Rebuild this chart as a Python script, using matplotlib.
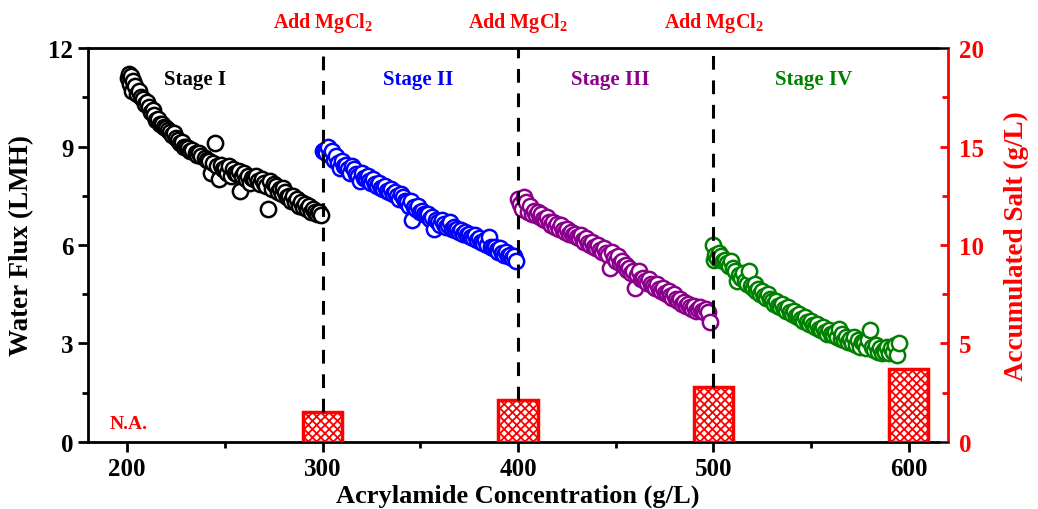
import matplotlib.pyplot as plt
import matplotlib.transforms as mtransforms
from matplotlib.ticker import MultipleLocator

# Stage I (black)
stage1_x = [200.5, 201, 201.5, 202, 202.5, 203, 204, 205, 206, 207, 208, 209, 210, 211, 212, 213, 214, 215,
            216, 217, 218, 219, 220, 221, 222, 223, 224, 225, 226, 227, 228, 229, 230, 231, 232, 233, 235,
            236, 237, 238, 240, 241, 242, 243, 244, 245, 246, 247, 248, 249, 250, 251, 252, 253, 254, 255,
            256, 257, 258, 259, 260, 261, 262, 263, 264, 265, 266, 267, 268, 269, 270, 271, 272, 273, 274,
            275, 276, 277, 278, 279, 280, 281, 282, 283, 284, 285, 286, 287, 288, 289, 290, 291, 292, 293,
            294, 295, 296, 297, 298, 299]
stage1_y = [11.1, 11.2, 10.9, 11.15, 10.7, 11.0, 10.85, 10.6, 10.7, 10.5, 10.45, 10.3, 10.35, 10.2, 10.05,
            10.1, 9.95, 9.8, 9.85, 9.7, 9.7, 9.6, 9.55, 9.5, 9.45, 9.35, 9.4, 9.25, 9.2, 9.1, 9.15, 9.0, 9.0,
            8.95, 8.85, 8.9, 8.8, 8.75, 8.8, 8.7, 8.65, 8.6, 8.55, 8.2, 8.5, 9.1, 8.4, 8.0, 8.45, 8.3, 8.35,
            8.2, 8.4, 8.1, 8.3, 8.2, 8.15, 8.25, 7.65, 8.1, 8.2, 8.0, 8.1, 7.9, 8.05, 8.0, 8.1, 7.95, 7.85,
            8.0, 7.9, 7.8, 7.1, 7.95, 7.7, 7.85, 7.8, 7.6, 7.7, 7.55, 7.75, 7.6, 7.45, 7.5, 7.35, 7.5, 7.3,
            7.4, 7.2, 7.3, 7.15, 7.25, 7.1, 7.2, 7.0, 7.1, 7.0, 6.95, 7.0, 6.9]

# Stage II (blue)
stage2_x = [300, 301, 302, 303, 304, 305, 306, 307, 308, 309, 310, 311, 312, 313, 314, 315, 316, 317, 318,
            319, 320, 321, 322, 323, 324, 325, 326, 327, 328, 329, 330, 331, 332, 333, 334, 335, 336, 337,
            338, 339, 340, 341, 342, 343, 344, 345, 346, 347, 348, 349, 350, 351, 352, 353, 354, 355, 356,
            357, 358, 359, 360, 361, 362, 363, 364, 365, 366, 367, 368, 369, 370, 371, 372, 373, 374, 375,
            376, 377, 378, 379, 380, 381, 382, 383, 384, 385, 386, 387, 388, 389, 390, 391, 392, 393, 394,
            395, 396, 397, 398, 399]
stage2_y = [8.85, 8.9, 8.8, 9.0, 8.75, 8.85, 8.6, 8.7, 8.5, 8.35, 8.55, 8.4, 8.45, 8.3, 8.2, 8.4, 8.3, 8.15,
            8.1, 7.95, 8.2, 8.05, 8.0, 8.1, 7.95, 7.9, 8.0, 7.85, 7.8, 7.9, 7.75, 7.7, 7.8, 7.65, 7.6, 7.7,
            7.55, 7.6, 7.5, 7.4, 7.55, 7.45, 7.35, 7.3, 7.2, 7.35, 6.75, 7.15, 7.1, 7.2, 7.0, 7.05, 6.95, 6.9,
            6.95, 6.8, 6.85, 6.5, 6.75, 6.7, 6.6, 6.75, 6.65, 6.55, 6.6, 6.7, 6.5, 6.55, 6.45, 6.5, 6.4, 6.45,
            6.35, 6.4, 6.3, 6.35, 6.25, 6.2, 6.3, 6.15, 6.2, 6.1, 6.05, 6.15, 6.0, 6.25, 5.95, 5.9, 5.95, 5.85,
            5.8, 5.9, 5.75, 5.7, 5.8, 5.65, 5.7, 5.6, 5.65, 5.5]

# Stage III (purple)
stage3_x = [400, 401, 402, 403, 404, 405, 406, 407, 408, 409, 410, 411, 412, 413, 414, 415, 416, 417, 418,
            419, 420, 421, 422, 423, 424, 425, 426, 427, 428, 429, 430, 431, 432, 433, 434, 435, 436, 437,
            438, 439, 440, 441, 442, 443, 444, 445, 446, 447, 448, 449, 450, 451, 452, 453, 454, 455, 456,
            457, 458, 459, 460, 461, 462, 463, 464, 465, 466, 467, 468, 469, 470, 471, 472, 473, 474, 475,
            476, 477, 478, 479, 480, 481, 482, 483, 484, 485, 486, 487, 488, 489, 490, 491, 492, 493, 494,
            495, 496, 497, 498]
stage3_y = [7.4, 7.25, 7.1, 7.45, 7.3, 7.0, 7.2, 6.95, 7.05, 6.9, 7.0, 6.85, 6.95, 6.8, 6.75, 6.85, 6.7, 6.6,
            6.7, 6.55, 6.65, 6.5, 6.6, 6.45, 6.4, 6.5, 6.35, 6.4, 6.3, 6.35, 6.25, 6.2, 6.3, 6.15, 6.1, 6.2,
            6.05, 6.0, 6.1, 5.95, 5.9, 6.0, 5.85, 5.8, 5.9, 5.75, 5.7, 5.3, 5.8, 5.6, 5.5, 5.65, 5.45, 5.5,
            5.35, 5.4, 5.25, 5.3, 5.15, 5.2, 4.7, 5.1, 5.2, 4.95, 5.0, 4.9, 4.85, 4.95, 4.8, 4.75, 4.7, 4.8,
            4.65, 4.6, 4.7, 4.55, 4.5, 4.6, 4.45, 4.4, 4.5, 4.35, 4.3, 4.35, 4.2, 4.25, 4.15, 4.2, 4.1, 4.05,
            4.15, 4.0, 4.05, 4.1, 4.0, 3.95, 4.05, 3.95, 3.65]

# Stage IV (green)
stage4_x = [500, 500.5, 501, 502, 503, 504, 505, 506, 507, 508, 509, 510, 511, 512, 513, 514, 515, 516, 517,
            518, 519, 520, 521, 522, 523, 524, 525, 526, 527, 528, 529, 530, 531, 532, 533, 534, 535, 536,
            537, 538, 539, 540, 541, 542, 543, 544, 545, 546, 547, 548, 549, 550, 551, 552, 553, 554, 555,
            556, 557, 558, 559, 560, 561, 562, 563, 564, 565, 566, 567, 568, 569, 570, 571, 572, 573, 574,
            575, 576, 577, 578, 579, 580, 581, 582, 583, 584, 585, 586, 587, 588, 589, 590, 591, 592, 593,
            594, 595]
stage4_y = [6.0, 5.55, 5.7, 5.6, 5.75, 5.65, 5.5, 5.55, 5.45, 5.35, 5.5, 5.3, 5.2, 4.9, 5.1, 5.0, 5.15, 4.9,
            4.8, 5.2, 4.75, 4.7, 4.8, 4.6, 4.65, 4.5, 4.6, 4.45, 4.4, 4.5, 4.35, 4.3, 4.2, 4.3, 4.15, 4.1, 4.2,
            4.05, 4.0, 4.1, 3.95, 3.9, 4.0, 3.85, 3.8, 3.9, 3.75, 3.7, 3.8, 3.65, 3.6, 3.7, 3.55, 3.5, 3.6,
            3.45, 3.4, 3.5, 3.35, 3.3, 3.4, 3.3, 3.25, 3.35, 3.2, 3.45, 3.15, 3.3, 3.1, 3.2, 3.05, 3.15, 3.0,
            3.2, 2.95, 3.1, 2.9, 3.05, 3.0, 2.85, 3.1, 3.4, 2.9, 2.8, 2.95, 2.75, 2.85, 2.7, 2.8, 2.75, 2.9,
            2.7, 2.85, 2.75, 2.95, 2.65, 3.0]

# accumulated salt (right axis)
salt_x = [300, 400, 500, 600]
salt_y = [1.5, 2.15, 2.8, 3.7]
add_x = [300, 400, 500]

stage_labels = ['Stage I', 'Stage II', 'Stage III', 'Stage IV']
stage_label_x = [235, 349, 447, 551]
stage_colors = ['black', 'blue', '#8B008B', 'green']

plt.rcParams['font.family'] = 'Liberation Serif'
plt.rcParams['font.weight'] = 'bold'
plt.rcParams['mathtext.fontset'] = 'custom'
plt.rcParams['mathtext.bf'] = 'Liberation Serif:bold'
plt.rcParams['mathtext.rm'] = 'Liberation Serif:bold'
plt.rcParams['mathtext.default'] = 'bf'
plt.rcParams['hatch.linewidth'] = 1.3

fig = plt.figure(figsize=(10.38, 5.10), dpi=100)
ax = fig.add_axes([0.0848, 0.1314, 0.8285, 0.7725])

stages = [(stage1_x, stage1_y), (stage2_x, stage2_y), (stage3_x, stage3_y), (stage4_x, stage4_y)]
for (sx, sy), c in zip(stages, stage_colors):
    ax.plot(sx, sy, 'o', ms=11, mfc='white', mec=c, mew=1.8, linestyle='none')

ax.set_xlim(180, 620)
ax.set_ylim(0, 12)
ax.xaxis.set_major_locator(MultipleLocator(100))
ax.xaxis.set_minor_locator(MultipleLocator(50))
ax.yaxis.set_major_locator(MultipleLocator(3))
ax.yaxis.set_minor_locator(MultipleLocator(1.5))
ax.tick_params(axis='both', which='major', labelsize=18, width=2, length=7, direction='out')
ax.tick_params(axis='both', which='minor', width=2, length=4, direction='out')
ax.tick_params(axis='y', right=False)
for s in ['left', 'bottom', 'top']:
    ax.spines[s].set_linewidth(2)
ax.set_xlabel('Acrylamide Concentration (g/L)', fontsize=19, fontweight='bold', labelpad=3)
ax.set_ylabel('Water Flux (LMH)', fontsize=19.5, fontweight='bold', labelpad=10)

ax2 = ax.twinx()
ax2.bar(salt_x, salt_y, width=20, facecolor='white', edgecolor='red', hatch='xxxx', linewidth=2.5)
ax2.vlines(add_x, salt_y[:3], 20, colors='black', linestyles=(0, (4.5, 3.5)), linewidth=2.2)
ax2.set_ylim(0, 20)
ax2.yaxis.set_major_locator(MultipleLocator(5))
ax2.yaxis.set_minor_locator(MultipleLocator(2.5))
ax2.tick_params(axis='y', which='major', labelsize=18, width=2, length=6, direction='in',
                colors='red', labelcolor='red', pad=8)
ax2.tick_params(axis='y', which='minor', width=2, length=4, direction='in', colors='red')
ax2.spines['right'].set_color('red')
ax2.spines['right'].set_linewidth(2)
ax2.set_ylabel('Accumulated Salt (g/L)', fontsize=19.5, fontweight='bold', color='red', labelpad=14)

trans = mtransforms.blended_transform_factory(ax.transData, ax.transAxes)
for x in add_x:
    ax.text(x, 1.065, 'Add MgCl$_2$', transform=trans, ha='center', va='center',
            fontsize=14.5, fontweight='bold', color='red')

for lbl, lx, c in zip(stage_labels, stage_label_x, stage_colors):
    ax.text(lx, 11.05, lbl, ha='center', va='center', fontsize=15, fontweight='bold', color=c)

ax.text(201, 0.55, 'N.A.', ha='center', va='center', fontsize=14, fontweight='bold', color='red')

fig.savefig('out.png', dpi=100)
